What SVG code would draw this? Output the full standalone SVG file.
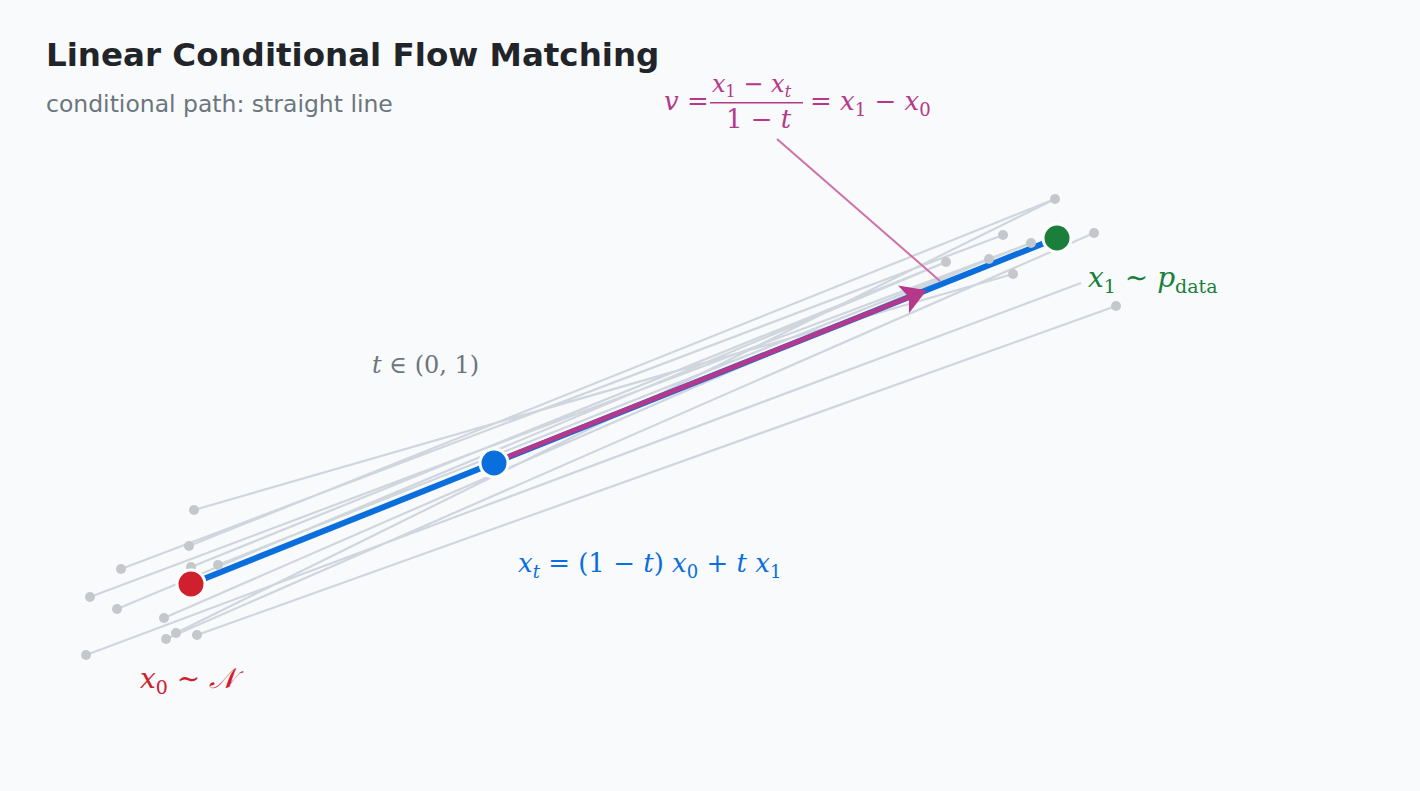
<svg xmlns="http://www.w3.org/2000/svg" width="1420" height="791" viewBox="0 0 1420 791">
<style>
.g{stroke:#d0d6de;stroke-width:2.2;fill:none}
.d{fill:#c4c7cc}
.m{font-family:"DejaVu Serif","Liberation Serif",serif;font-style:italic}
.r{font-style:normal}
</style>
<defs>
<marker id="ah" markerWidth="6" markerHeight="6" refX="4" refY="3" orient="auto" markerUnits="strokeWidth"><path d="M0,0 L5,3 L0,6 L1.2,3 Z" fill="#b5388a"/></marker>
</defs>
<rect width="1420" height="791" fill="#f8fafc"/>
<text x="46" y="66" font-family="DejaVu Sans,sans-serif" font-weight="bold" font-size="32.5" fill="#212529">Linear Conditional Flow Matching</text>
<text x="46" y="112" font-family="DejaVu Sans,sans-serif" font-size="23.5" fill="#6c757d">conditional path: straight line</text>
<g id="connectors">
<path class="g" d="M194,510L1013,274M197,635L1116,306M86,655L1081,283M121,569L1003,235M90,597L1031,243M117,609L946,262M189,546L1055,199M164,618L989,259M166,639L1094,233M176,633L1055,199M218,565L1031,243M191,567L946,262"/>
<path d="M777,139L940,281" stroke="#d070a8" stroke-width="2"/>
<path d="M191,584L1057,238" stroke="#0a6fdc" stroke-width="6"/>
<path d="M497,461L922,292" stroke="#b5388a" stroke-width="5" marker-end="url(#ah)"/>
</g>
<g id="samples">
<circle class="d" cx="194" cy="510" r="5"/><circle class="d" cx="189" cy="546" r="5"/><circle class="d" cx="121" cy="569" r="5"/><circle class="d" cx="191" cy="567" r="5"/><circle class="d" cx="218" cy="565" r="5"/><circle class="d" cx="90" cy="597" r="5"/><circle class="d" cx="117" cy="609" r="5"/><circle class="d" cx="164" cy="618" r="5"/><circle class="d" cx="166" cy="639" r="5"/><circle class="d" cx="176" cy="633" r="5"/><circle class="d" cx="197" cy="635" r="5"/><circle class="d" cx="86" cy="655" r="5"/>
<circle class="d" cx="1055" cy="199" r="5"/><circle class="d" cx="1003" cy="235" r="5"/><circle class="d" cx="1094" cy="233" r="5"/><circle class="d" cx="946" cy="262" r="5"/><circle class="d" cx="989" cy="259" r="5"/><circle class="d" cx="1031" cy="243" r="5"/><circle class="d" cx="1013" cy="274" r="5"/><circle class="d" cx="1116" cy="306" r="5"/>
</g>
<g id="x0"><circle cx="191" cy="584" r="14" fill="#d0202e" stroke="#fff" stroke-width="3"/>
<text class="m" x="140" y="688" font-size="28" fill="#d0202e">x<tspan class="r" font-size="19" dy="6">0</tspan><tspan class="r" dy="-6"> ∼ </tspan>𝒩</text></g>
<g id="xt"><circle cx="494" cy="463" r="14" fill="#0a6fdc" stroke="#fff" stroke-width="3"/>
<text class="m" x="518" y="572" font-size="26" fill="#0a6fdc">x<tspan font-size="18" dy="6">t</tspan><tspan class="r" dy="-6"> = (1 − </tspan>t<tspan class="r">) </tspan>x<tspan class="r" font-size="18" dy="6">0</tspan><tspan class="r" dy="-6"> + </tspan>t x<tspan class="r" font-size="18" dy="6">1</tspan></text></g>
<g id="x1"><circle cx="1057" cy="238" r="14" fill="#1a7f3a" stroke="#fff" stroke-width="3"/>
<text class="m" x="1088" y="287" font-size="28" fill="#1a7f3a">x<tspan class="r" font-size="19" dy="6">1</tspan><tspan class="r" dy="-6"> ∼ </tspan>p<tspan class="r" font-size="19" dy="6">data</tspan></text></g>
<g id="tlabel"><text class="m" x="372" y="373" font-size="24" fill="#6c757d">t<tspan class="r"> ∈ (0, 1)</tspan></text></g>
<g id="vlabel" fill="#b5388a">
<text class="m" x="664" y="110" font-size="26">v<tspan class="r"> =</tspan></text>
<text class="m" x="712" y="92" font-size="24">x<tspan class="r" font-size="16" dy="5">1</tspan><tspan class="r" dy="-5"> − </tspan>x<tspan font-size="16" dy="5">t</tspan></text>
<rect x="710" y="102" width="93" height="1.5"/>
<text class="m" x="726" y="128" font-size="26"><tspan class="r">1 − </tspan>t</text>
<text class="m" x="810" y="110" font-size="26"><tspan class="r">= </tspan>x<tspan class="r" font-size="18" dy="6">1</tspan><tspan class="r" dy="-6"> − </tspan>x<tspan class="r" font-size="18" dy="6">0</tspan></text>
</g>
</svg>
